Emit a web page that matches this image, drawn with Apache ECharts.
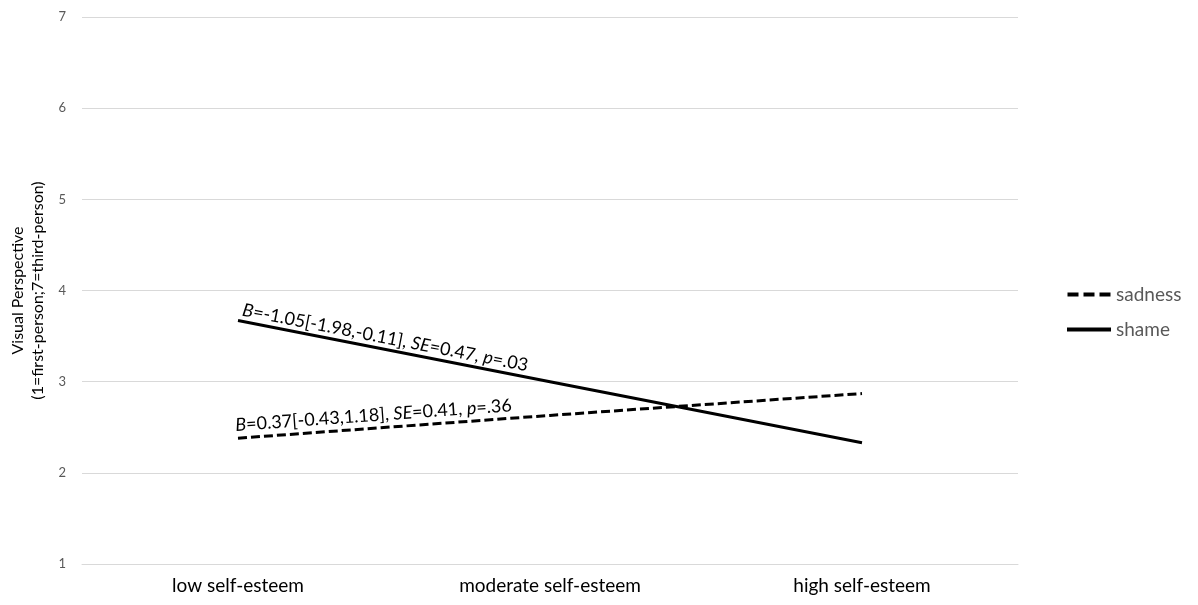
<!DOCTYPE html>
<html><head><meta charset="utf-8">
<script src="https://cdn.jsdelivr.net/npm/echarts@6/dist/echarts.min.js"></script>
<style>html,body{margin:0;padding:0;background:#fff}#c{width:1198px;height:605px}</style>
</head><body><div id="c"></div>
<script>
const categories = ['low self-esteem', 'moderate self-esteem', 'high self-esteem'];
const sadness = [2.38, 2.63, 2.87];
const shame = [3.67, 3.0, 2.33];
const yTicks = [1, 2, 3, 4, 5, 6, 7];
const annoShame = ['B', '=-1.05[-1.98,-0.11], ', 'SE', '=0.47, ', 'p', '=.03'];
const annoSad = ['B', '=0.37[-0.43,1.18], ', 'SE', '=0.41, ', 'p', '=.36'];

const FONT = 'Lato, "Open Sans", sans-serif';
const chart = echarts.init(document.getElementById('c'));
chart.setOption({
  animation: false,
  textStyle: { fontFamily: FONT },
  grid: { left: 82, right: 180, top: 17, bottom: 41, outerBoundsMode: 'none', containLabel: false },
  legend: {
    orient: 'vertical', left: 1062, top: 280, itemGap: 16,
    itemWidth: 44, itemHeight: 4,
    textStyle: { color: '#595959', fontSize: 19, fontFamily: FONT },
    data: [
      { name: 'sadness', icon: 'path://M0,0h11v4h-11z M16,0h11v4h-11z M32,0h11v4h-11z' },
      { name: 'shame', icon: 'rect' }
    ]
  },
  xAxis: {
    type: 'category', data: categories, boundaryGap: true,
    axisLine: { lineStyle: { color: '#d9d9d9', width: 1 } },
    axisTick: { show: false },
    axisLabel: { color: '#000', fontSize: 19, margin: 12, fontFamily: FONT }
  },
  yAxis: {
    type: 'value', min: yTicks[0], max: yTicks[yTicks.length - 1], interval: 1,
    name: 'Visual Perspective\n(1=first-person;7=third-person)',
    nameLocation: 'middle', nameGap: 33, nameRotate: 90,
    nameTextStyle: { color: '#000', fontSize: 16, lineHeight: 20, fontFamily: FONT },
    axisLine: { show: false }, axisTick: { show: false },
    axisLabel: { color: '#595959', fontSize: 13, margin: 16 },
    splitLine: { lineStyle: { color: '#d9d9d9', width: 1 } }
  },
  series: [
    { name: 'sadness', type: 'line', data: sadness, symbol: 'none',
      lineStyle: { color: '#000', width: 3, type: [9, 4] }, itemStyle: { color: '#000' } },
    { name: 'shame', type: 'line', data: shame, symbol: 'none',
      lineStyle: { color: '#000', width: 3, type: 'solid' }, itemStyle: { color: '#000' } }
  ]
});

function annotation(parts, seriesIndex, dx, dy) {
  const vals = seriesIndex === 0 ? sadness : shame;
  const p0 = chart.convertToPixel({ seriesIndex }, [0, vals[0]]);
  const p2 = chart.convertToPixel({ seriesIndex }, [2, vals[2]]);
  const ang = Math.atan2(-(p2[1] - p0[1]), p2[0] - p0[0]);
  const text = parts.map((s, i) => (i % 2 === 0 ? '{i|' + s + '}' : '{n|' + s + '}')).join('');
  const base = { fontSize: 18, fontFamily: FONT, fill: '#000' };
  return {
    type: 'text', x: p0[0] + dx, y: p0[1] + dy, rotation: ang, originX: 0, originY: 0,
    style: {
      text, verticalAlign: 'bottom',
      rich: { i: Object.assign({ fontStyle: 'italic' }, base), n: Object.assign({}, base) },
      fontSize: 18, fontFamily: FONT, fill: '#000'
    }
  };
}
chart.setOption({ graphic: [annotation(annoShame, 1, 3, -2), annotation(annoSad, 0, -2, -4)] });
</script></body></html>
